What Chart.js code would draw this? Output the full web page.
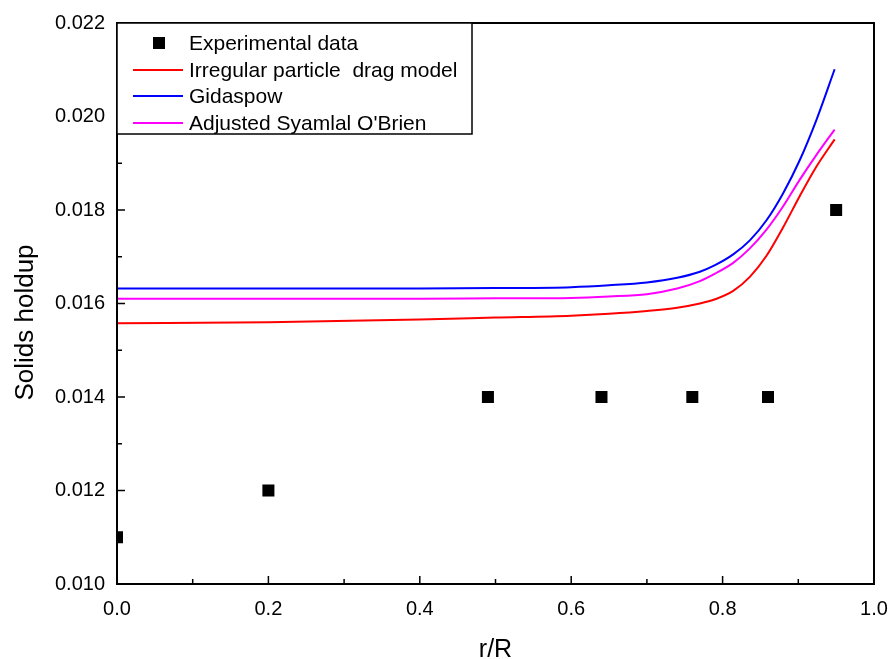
<!DOCTYPE html>
<html>
<head>
<meta charset="utf-8">
<script src="https://cdn.jsdelivr.net/npm/chart.js@4.4.1/dist/chart.umd.min.js"></script>
<style>
  html, body { margin: 0; padding: 0; background: #fff; }
  #wrap { width: 889px; height: 659px; }
</style>
</head>
<body>
<div id="wrap"><canvas id="mycanvas" width="889" height="659"></canvas></div>
<script>
// experimental points
var expR = [0, 0.2, 0.49, 0.64, 0.76, 0.86, 0.95];
var expHoldup = [0.011, 0.012, 0.014, 0.014, 0.014, 0.014, 0.018];

// model curves
var modelR = [0, 0.2, 0.4, 0.5, 0.6, 0.65, 0.7, 0.74, 0.77, 0.79, 0.814, 0.836, 0.858, 0.88, 0.902, 0.924, 0.948];
var irregular = [0.01558, 0.0156, 0.01566, 0.0157, 0.01574, 0.01578, 0.01584, 0.01591, 0.016, 0.01609, 0.01627, 0.01657, 0.01702, 0.01763, 0.01830, 0.01893, 0.01951];
var gidaspow = [0.01632, 0.01632, 0.01632, 0.01633, 0.01635, 0.01639, 0.01645, 0.01655, 0.01668, 0.01682, 0.01705, 0.01735, 0.01778, 0.01836, 0.01907, 0.01993, 0.02101];
var syamlal = [0.0161, 0.0161, 0.0161, 0.01611, 0.01612, 0.01615, 0.0162, 0.01632, 0.01648, 0.01664, 0.01687, 0.01718, 0.01758, 0.01808, 0.01865, 0.01918, 0.01972];

var xTicks = [0, 0.2, 0.4, 0.6, 0.8, 1.0];
var yTicks = [0.010, 0.012, 0.014, 0.016, 0.018, 0.020, 0.022];

var seriesNames = ['Experimental data', 'Irregular particle  drag model', 'Gidaspow', "Adjusted Syamlal O'Brien"];
var seriesColors = ['#000000', '#ff0000', '#0000ff', '#ff00ff'];
var yTitle = 'Solids holdup';

var FONT = 'Arial, "Liberation Sans", sans-serif';

function pts(xs, ys) {
    var out = [];
    for (var i in xs) {
        out.push({x: xs[i], y: ys[i]});
    }
    return out;
}

function lineSet(idx, ys) {
    return {
        label: seriesNames[idx],
        data: pts(modelR, ys),
        showLine: true,
        borderColor: seriesColors[idx],
        backgroundColor: seriesColors[idx],
        borderWidth: 2,
        pointRadius: 0,
        cubicInterpolationMode: 'monotone',
        clip: 0
    };
}

// box frame + inward ticks + y title
var framePlugin = {
    id: 'frame',
    afterDraw: function (chart) {
        var ctx = chart.ctx;
        var a = chart.chartArea;
        var xs = chart.scales.x, ys = chart.scales.y;
        ctx.save();
        ctx.strokeStyle = '#000';
        ctx.lineWidth = 2;
        ctx.strokeRect(a.left, a.top, a.right - a.left, a.bottom - a.top);
        ctx.lineWidth = 1.5;
        ctx.beginPath();
        for (var t = 0; t <= 10; t++) {
            var px = xs.getPixelForValue(t / 10);
            var len = (t % 2 === 0) ? 8 : 5;
            ctx.moveTo(px, a.bottom);
            ctx.lineTo(px, a.bottom - len);
        }
        for (var k = 0; k <= 12; k++) {
            var py = ys.getPixelForValue(0.010 + k * 0.001);
            var len2 = (k % 2 === 0) ? 8 : 5;
            ctx.moveTo(a.left, py);
            ctx.lineTo(a.left + len2, py);
        }
        ctx.stroke();

        // y axis title, a bit below the middle like the original
        ctx.translate(33, (a.top + a.bottom) / 2 + 19);
        ctx.rotate(-Math.PI / 2);
        ctx.font = '26px ' + FONT;
        ctx.fillStyle = '#000';
        ctx.textAlign = 'center';
        ctx.textBaseline = 'alphabetic';
        ctx.fillText(yTitle, 0, 0);
        ctx.restore();
    }
};

// boxed legend in the top-left corner
var legendPlugin = {
    id: 'boxLegend',
    afterDraw: function (chart) {
        var ctx = chart.ctx;
        var a = chart.chartArea;
        var x0 = a.left, y0 = a.top;
        var w = 355, h = 111;
        ctx.save();
        ctx.fillStyle = '#fff';
        ctx.fillRect(x0, y0, w, h);
        ctx.strokeStyle = '#000';
        ctx.lineWidth = 1.5;
        ctx.strokeRect(x0, y0, w, h);
        ctx.font = '21px ' + FONT;
        ctx.textBaseline = 'middle';
        var rows = [20, 47, 73, 100];
        chart.data.datasets.forEach(function (ds, i) {
            var ry = y0 + rows[i];
            if (i === 0) {
                ctx.fillStyle = ds.backgroundColor;
                ctx.fillRect(x0 + 36, ry - 6, 12, 12);
            } else {
                ctx.strokeStyle = ds.borderColor;
                ctx.lineWidth = 2;
                ctx.beginPath();
                ctx.moveTo(x0 + 16, ry);
                ctx.lineTo(x0 + 66, ry);
                ctx.stroke();
            }
            ctx.fillStyle = '#000';
            ctx.fillText(ds.label, x0 + 72, ry + 1);
        });
        ctx.restore();
    }
};

var chartdata = {
    datasets: [
        {
            label: seriesNames[0],
            data: pts(expR, expHoldup),
            showLine: false,
            pointStyle: 'rect',
            pointRadius: 8.5,
            pointHoverRadius: 8.5,
            backgroundColor: '#000',
            borderColor: '#000',
            borderWidth: 0,
            clip: 0
        },
        lineSet(1, irregular),
        lineSet(2, gidaspow),
        lineSet(3, syamlal)
    ]
};

var ctx = document.getElementById('mycanvas');
var chart = new Chart(ctx, {
    type: 'scatter',
    data: chartdata,
    options: {
        responsive: false,
        animation: false,
        events: [],
        layout: { padding: { top: 23, right: 15, left: 0, bottom: 0 } },
        plugins: {
            legend: { display: false },
            tooltip: { enabled: false }
        },
        scales: {
            x: {
                type: 'linear',
                min: 0,
                max: 1.0,
                afterBuildTicks: function (s) { s.ticks = xTicks.map(function (v) { return {value: v}; }); },
                afterFit: function (s) {
                    s.height = 75;
                    s.paddingLeft = 0;
                    s.paddingRight = 0;
                },
                grid: { display: false, drawTicks: false },
                border: { display: false },
                ticks: {
                    padding: 13,
                    color: '#000',
                    font: { family: FONT, size: 20 },
                    callback: function (v) { return v.toFixed(1); }
                },
                title: {
                    display: true,
                    text: 'r/R',
                    color: '#000',
                    font: { family: FONT, size: 25 },
                    padding: { top: 12, bottom: -6 }
                }
            },
            y: {
                type: 'linear',
                min: 0.010,
                max: 0.022,
                afterBuildTicks: function (s) { s.ticks = yTicks.map(function (v) { return {value: v}; }); },
                afterFit: function (s) {
                    s.width = 117;
                    s.paddingTop = 0;
                    s.paddingBottom = 0;
                },
                grid: { display: false, drawTicks: false },
                border: { display: false },
                ticks: {
                    padding: 12,
                    color: '#000',
                    font: { family: FONT, size: 20 },
                    callback: function (v) { return v.toFixed(3); }
                },
                title: { display: false }
            }
        }
    },
    plugins: [framePlugin, legendPlugin]
});
</script>
</body>
</html>
